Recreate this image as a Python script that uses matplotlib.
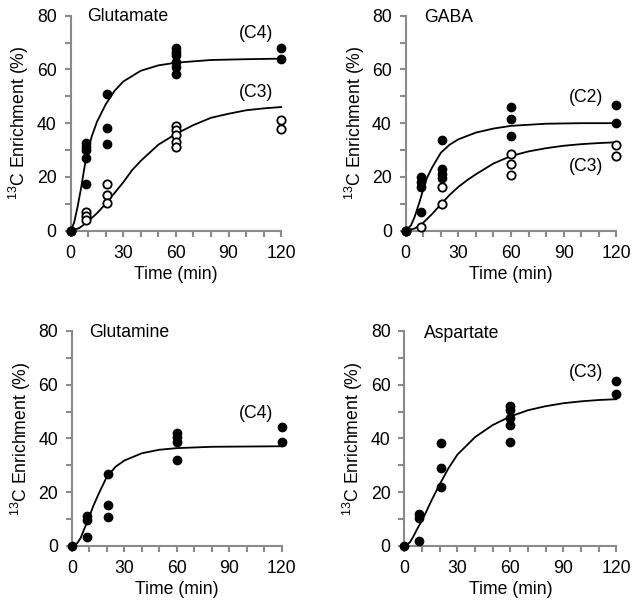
import matplotlib
matplotlib.use("Agg")
import matplotlib.pyplot as plt
from matplotlib.ticker import MultipleLocator

plt.rcParams['font.family'] = ['Liberation Sans', 'DejaVu Sans']

FS = 12.7
GRAY = '#8a8a8a'

# ---------------- Data ----------------
# Glutamate
glu_c4_t = [0, 8.5, 8.5, 8.5, 8.5, 8.5, 20.5, 20.5, 20.5, 60, 60, 60, 60, 60, 60, 120, 120]
glu_c4_v = [0, 32.5, 31.2, 30, 27, 17.2, 50.7, 38.3, 32.3, 68, 66.6, 65.2, 62.8, 61, 58.2, 68.1, 63.9]
glu_c3_t = [0, 8.5, 8.5, 8.5, 20.5, 20.5, 20.5, 60, 60, 60, 60, 60, 120, 120]
glu_c3_v = [0, 7, 5.5, 4, 17.5, 13.2, 10.3, 39, 37.6, 35.6, 33, 31.3, 41, 37.8]
glu_c4_fit_t = [0, 2, 4, 6, 8, 10, 12, 15, 20, 25, 30, 40, 50, 60, 80, 100, 120]
glu_c4_fit_v = [0, 3, 9, 16, 24, 30, 35, 40.5, 47, 52, 55.5, 59.5, 61.5, 62.5, 63.5, 63.8, 64]
glu_c3_fit_t = [0, 5, 8, 10, 15, 20, 25, 30, 35, 40, 50, 60, 70, 80, 90, 100, 110, 120]
glu_c3_fit_v = [0, 1, 2.5, 3.5, 6.5, 10, 14, 18, 22.5, 26, 32, 36, 39.3, 42, 43.5, 44.8, 45.5, 46]

# GABA
gaba_c2_t = [0, 8.5, 8.5, 8.5, 8.5, 20.5, 20.5, 20.5, 20.5, 60, 60, 60, 120, 120]
gaba_c2_v = [0, 20, 18.3, 16.4, 7.1, 33.8, 22.8, 21.2, 19.6, 46, 41.6, 35.4, 46.6, 40.1]
gaba_c3_t = [0, 8.5, 20.5, 20.5, 60, 60, 60, 120, 120]
gaba_c3_v = [0, 1.5, 16.3, 10, 28.7, 24.9, 20.9, 31.9, 27.8]
gaba_c2_fit_t = [0, 3, 5, 8, 10, 12, 15, 20, 25, 30, 40, 50, 60, 80, 100, 120]
gaba_c2_fit_v = [0, 2, 5, 11, 15.5, 19.5, 23.5, 29, 32, 34, 36.5, 38, 39, 39.8, 40, 40]
gaba_c3_fit_t = [0, 5, 8.5, 10, 15, 20, 25, 30, 35, 40, 50, 60, 70, 80, 90, 100, 110, 120]
gaba_c3_fit_v = [0, 0.8, 2.2, 3, 6.2, 9.8, 13.3, 16.3, 18.8, 21, 25, 27.8, 29.5, 30.7, 31.6, 32.2, 32.6, 32.9]

# Glutamine
gln_c4_t = [0, 8.5, 8.5, 8.5, 20.5, 20.5, 20.5, 60, 60, 60, 60, 120, 120]
gln_c4_v = [0, 11.1, 9.6, 3.2, 26.6, 15.4, 10.7, 41.9, 40.4, 38.6, 32, 44.3, 38.5]
gln_c4_fit_t = [0, 3, 5, 8, 10, 12, 15, 20, 25, 30, 40, 50, 60, 80, 100, 120]
gln_c4_fit_v = [0, 1, 3, 7.8, 11, 14.5, 19, 25.8, 29.5, 31.8, 34.5, 35.8, 36.4, 36.9, 37, 37.1]

# Aspartate
asp_c3_t = [0, 8.5, 8.5, 8.5, 20.5, 20.5, 20.5, 60, 60, 60, 60, 60, 120, 120]
asp_c3_v = [0, 12, 10.3, 2, 38.2, 28.9, 22, 52, 50.6, 47.6, 45, 38.6, 61.2, 56.4]
asp_c3_fit_t = [0, 3, 5, 8, 10, 15, 20, 25, 30, 40, 50, 60, 70, 80, 90, 100, 110, 120]
asp_c3_fit_v = [0, 1.3, 3.5, 7.3, 9.5, 16.5, 23, 29, 34, 40.5, 45, 48.2, 50.5, 52, 53.1, 53.8, 54.3, 54.6]

x_ticks = [0, 30, 60, 90, 120]
y_ticks = [0, 20, 40, 60, 80]

# ---------------- Figure ----------------
fig = plt.figure(figsize=(6.42, 6.11), dpi=100)

positions = {
    'tl': [0.110, 0.6224, 0.328, 0.352],
    'tr': [0.632, 0.6224, 0.328, 0.352],
    'bl': [0.112, 0.1064, 0.327, 0.352],
    'br': [0.630, 0.1064, 0.330, 0.352],
}

def style(ax):
    ax.set_xlim(0, 120)
    ax.set_ylim(0, 80)
    for s in ['top', 'right']:
        ax.spines[s].set_visible(False)
    for s in ['left', 'bottom']:
        ax.spines[s].set_color(GRAY)
        ax.spines[s].set_linewidth(1.5)
    ax.set_xticks(x_ticks)
    ax.set_yticks(y_ticks)
    ax.xaxis.set_minor_locator(MultipleLocator(10))
    ax.yaxis.set_minor_locator(MultipleLocator(10))
    ax.tick_params(which='both', direction='out', length=4, width=1.5, color=GRAY,
                   labelsize=FS, labelcolor='black')
    ax.tick_params(axis='x', which='both', pad=6)
    ax.tick_params(axis='y', which='both', pad=6)
    ax.set_xlabel('Time (min)', fontsize=FS, labelpad=3)
    ax.set_ylabel(r'$^{\mathregular{13}}$C Enrichment (%)', fontsize=FS, labelpad=4)
    ax.patch.set_visible(False)

def filled(ax, t, v):
    ax.plot(t, v, 'o', color='black', markersize=6, clip_on=False, zorder=4)

def hollow(ax, t, v):
    ax.plot(t, v, 'o', markerfacecolor='white', markeredgecolor='black',
            markeredgewidth=1.3, markersize=6, clip_on=False, zorder=4)

def fit(ax, t, v):
    ax.plot(t, v, '-', color='black', linewidth=1.3, clip_on=False, zorder=3)

# Glutamate
ax = fig.add_axes(positions['tl'])
style(ax)
fit(ax, glu_c4_fit_t, glu_c4_fit_v)
fit(ax, glu_c3_fit_t, glu_c3_fit_v)
hollow(ax, glu_c3_t, glu_c3_v)
filled(ax, glu_c4_t, glu_c4_v)
ax.text(9.3, 79.5, 'Glutamate', fontsize=FS, va='center', ha='left')
ax.text(105.7, 73.2, '(C4)', fontsize=FS, va='center', ha='center')
ax.text(105.7, 51.3, '(C3)', fontsize=FS, va='center', ha='center')

# GABA
ax = fig.add_axes(positions['tr'])
style(ax)
fit(ax, gaba_c2_fit_t, gaba_c2_fit_v)
fit(ax, gaba_c3_fit_t, gaba_c3_fit_v)
hollow(ax, gaba_c3_t, gaba_c3_v)
filled(ax, gaba_c2_t, gaba_c2_v)
ax.text(10.5, 79.4, 'GABA', fontsize=FS, va='center', ha='left')
ax.text(102.8, 49.5, '(C2)', fontsize=FS, va='center', ha='center')
ax.text(102.8, 23.9, '(C3)', fontsize=FS, va='center', ha='center')

# Glutamine
ax = fig.add_axes(positions['bl'])
style(ax)
fit(ax, gln_c4_fit_t, gln_c4_fit_v)
filled(ax, gln_c4_t, gln_c4_v)
ax.text(9.9, 79.3, 'Glutamine', fontsize=FS, va='center', ha='left')
ax.text(105.5, 49.3, '(C4)', fontsize=FS, va='center', ha='center')

# Aspartate
ax = fig.add_axes(positions['br'])
style(ax)
fit(ax, asp_c3_fit_t, asp_c3_fit_v)
filled(ax, asp_c3_t, asp_c3_v)
ax.text(11.1, 79.2, 'Aspartate', fontsize=FS, va='center', ha='left')
ax.text(102.7, 64.7, '(C3)', fontsize=FS, va='center', ha='center')

fig.savefig('out.png', dpi=100)
